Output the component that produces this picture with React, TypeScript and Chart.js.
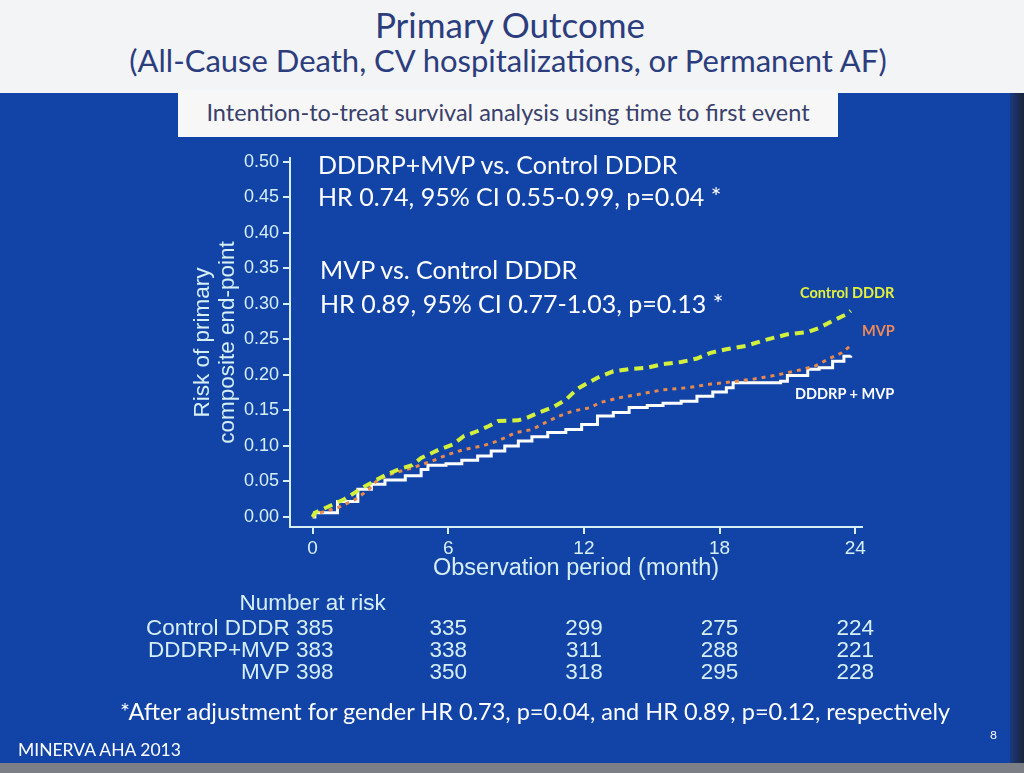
import React, { useEffect, useRef } from "react";
import { Chart, registerables } from "chart.js";

Chart.register(...registerables);

// ---- Data ----
const controlMonths = [0, 0.1, 1.4, 2.3, 3.1, 3.8, 4.4, 4.8, 5.6, 6.2, 6.7, 7.3, 7.8, 8.2, 9.1, 9.5, 10.0, 10.6, 11.2, 11.6, 11.8, 12.6, 13.3, 14.0, 14.8, 15.5, 16.3, 17.0, 17.6, 18.3, 19.2, 19.9, 21.0, 21.9, 22.4, 23.0, 23.6, 23.8];
const controlRisk = [0, 0.006, 0.025, 0.043, 0.057, 0.067, 0.073, 0.083, 0.095, 0.102, 0.114, 0.121, 0.128, 0.135, 0.136, 0.140, 0.147, 0.154, 0.165, 0.177, 0.182, 0.196, 0.205, 0.208, 0.210, 0.215, 0.218, 0.223, 0.231, 0.236, 0.241, 0.248, 0.257, 0.260, 0.266, 0.276, 0.285, 0.290];

const mvpMonths = [0, 0.1, 1.1, 1.9, 2.5, 2.9, 3.6, 4.4, 5.3, 6.0, 6.7, 7.5, 8.2, 9.0, 9.7, 10.3, 10.9, 11.5, 12.3, 12.7, 13.6, 14.5, 15.5, 16.6, 17.6, 18.5, 19.5, 20.4, 21.3, 22.2, 22.8, 23.4, 23.8];
const mvpRisk = [0, 0.004, 0.013, 0.025, 0.039, 0.053, 0.062, 0.069, 0.079, 0.088, 0.095, 0.100, 0.107, 0.119, 0.123, 0.133, 0.142, 0.149, 0.154, 0.161, 0.168, 0.173, 0.179, 0.182, 0.187, 0.190, 0.194, 0.199, 0.205, 0.212, 0.222, 0.231, 0.241];

const dddrpMonths = [0, 0.1, 1.1, 2.0, 2.6, 3.2, 4.1, 4.8, 5.1, 5.9, 6.6, 7.3, 7.9, 8.5, 9.1, 9.7, 10.4, 11.2, 11.9, 12.6, 13.3, 14.0, 14.8, 15.5, 16.3, 17.0, 17.7, 18.3, 18.6, 19.7, 20.7, 21.0, 21.9, 22.4, 23.0, 23.5, 23.8];
const dddrpRisk = [0, 0.006, 0.022, 0.039, 0.046, 0.052, 0.058, 0.067, 0.073, 0.075, 0.080, 0.086, 0.093, 0.100, 0.107, 0.113, 0.119, 0.123, 0.130, 0.142, 0.147, 0.154, 0.157, 0.160, 0.163, 0.170, 0.176, 0.182, 0.189, 0.189, 0.191, 0.199, 0.208, 0.210, 0.219, 0.226, 0.227];

const xTickValues = [0, 6, 12, 18, 24];
const yTickValues = [0, 0.05, 0.1, 0.15, 0.2, 0.25, 0.3, 0.35, 0.4, 0.45, 0.5];

const riskHeader = "Number at risk";
const riskRowLabels = ["Control DDDR 385", "DDDRP+MVP 383", "MVP 398"];
const riskMonths = [6, 12, 18, 24];
const riskControl = [335, 299, 275, 224];
const riskDddrp = [338, 311, 288, 221];
const riskMvp = [350, 318, 295, 228];

const AXIS_COLOR = "#d6eff5";
const BLUE = "#1144a6";
const SANS = '"Liberation Sans", Arial, sans-serif';
const SLIDE = 'Lato, "Open Sans", sans-serif';

const toPoints = (xs: number[], ys: number[]) => xs.map((x, i) => ({ x, y: ys[i] }));

const riskTablePlugin = {
  id: "riskTable",
  afterDraw(chart: any) {
    const ctx = chart.ctx;
    const xs = chart.scales.x;
    const bottom = chart.chartArea.bottom;
    ctx.save();
    ctx.fillStyle = AXIS_COLOR;
    ctx.font = `22.5px ${SANS}`;
    ctx.textBaseline = "middle";
    const x0 = xs.getPixelForValue(0);
    ctx.textAlign = "center";
    ctx.fillText(riskHeader, x0, bottom + 77);
    const rows = [riskControl, riskDddrp, riskMvp];
    rows.forEach((vals, r) => {
      const y = bottom + 102 + r * 22;
      ctx.textAlign = "right";
      ctx.fillText(riskRowLabels[r], x0 + 21, y);
      ctx.textAlign = "center";
      vals.forEach((v, i) => {
        ctx.fillText(String(v), xs.getPixelForValue(riskMonths[i]), y);
      });
    });
    ctx.restore();
  },
};

function KMChart() {
  const ref = useRef<HTMLCanvasElement | null>(null);
  useEffect(() => {
    if (!ref.current) return;
    const chart = new Chart(ref.current, {
      type: "line",
      data: {
        datasets: [
          {
            label: "Control DDDR",
            data: toPoints(controlMonths, controlRisk),
            borderColor: "#d2f03c",
            borderWidth: 4,
            borderDash: [9, 6],
            pointRadius: 0,
            stepped: false,
            fill: false,
          },
          {
            label: "MVP",
            data: toPoints(mvpMonths, mvpRisk),
            borderColor: "#e8894c",
            borderWidth: 3,
            borderDash: [4, 5],
            pointRadius: 0,
            stepped: false,
            fill: false,
          },
          {
            label: "DDDRP + MVP",
            data: toPoints(dddrpMonths, dddrpRisk),
            borderColor: "#ffffff",
            borderWidth: 3,
            pointRadius: 0,
            stepped: true,
            fill: false,
          },
        ],
      },
      options: {
        responsive: false,
        animation: false,
        layout: { padding: { left: 184, top: 158, right: 162, bottom: 186 } },
        plugins: { legend: { display: false }, tooltip: { enabled: false } },
        scales: {
          x: {
            type: "linear",
            min: -1,
            max: 24.3,
            afterBuildTicks: (s: any) => {
              s.ticks = xTickValues.map((v) => ({ value: v }));
            },
            afterFit: (s: any) => {
              s.height = 60;
            },
            grid: { display: true, drawOnChartArea: false, drawTicks: true, tickLength: 7, color: AXIS_COLOR, lineWidth: 2 },
            border: { display: true, color: AXIS_COLOR, width: 2 },
            ticks: {
              color: AXIS_COLOR,
              font: { family: SANS, size: 19 },
              padding: 3,
              maxRotation: 0,
              autoSkip: false,
              callback: (v: any) => String(v),
            },
            title: {
              display: true,
              text: "Observation period (month)",
              color: AXIS_COLOR,
              font: { family: SANS, size: 23.5 },
              padding: { top: 0, bottom: 4 },
            },
          },
          y: {
            type: "linear",
            min: -0.014,
            max: 0.505,
            afterBuildTicks: (s: any) => {
              s.ticks = yTickValues.map((v) => ({ value: v }));
            },
            afterFit: (s: any) => {
              s.width = 106;
            },
            grid: { display: true, drawOnChartArea: false, drawTicks: true, tickLength: 7, color: AXIS_COLOR, lineWidth: 2 },
            border: { display: true, color: AXIS_COLOR, width: 2 },
            ticks: {
              color: AXIS_COLOR,
              font: { family: SANS, size: 18 },
              padding: 4,
              autoSkip: false,
              callback: (v: any) => Number(v).toFixed(2),
            },
            title: {
              display: true,
              text: ["Risk of primary", "composite end-point"],
              color: AXIS_COLOR,
              font: { family: SANS, size: 22.5, lineHeight: 1.12 },
              padding: { top: 6, bottom: 0 },
            },
          },
        },
      },
      plugins: [riskTablePlugin],
    } as any);
    return () => chart.destroy();
  }, []);
  return (
    <canvas
      ref={ref}
      width={1024}
      height={773}
      style={{ position: "absolute", left: 0, top: 0, width: 1024, height: 773 }}
    />
  );
}

const abs = (extra: React.CSSProperties): React.CSSProperties => ({
  position: "absolute",
  whiteSpace: "nowrap",
  lineHeight: 1,
  ...extra,
});

export default function App() {
  return (
    <div
      style={{
        position: "absolute",
        left: 0,
        top: 0,
        width: 1024,
        height: 773,
        overflow: "hidden",
        background: BLUE,
        fontFamily: SLIDE,
      }}
    >
      {/* white header */}
      <div style={abs({ left: 0, top: 0, width: 1024, height: 93, background: "#f3f4f6" })} />
      <div style={abs({ left: 178, top: 90, width: 660, height: 47, background: "#f7f7f8" })} />
      <div style={abs({ left: 1010, top: 93, width: 14, height: 680, background: "linear-gradient(90deg, #1a3a80, #1c2438)" })} />
      <div style={abs({ left: 0, top: 763, width: 1024, height: 10, background: "#7c7f86" })} />

      <div style={abs({ left: 510, top: 7, transform: "translateX(-50%)", fontSize: 35, color: "#2c3d7e" })}>Primary Outcome</div>
      <div style={abs({ left: 508, top: 45, transform: "translateX(-50%)", fontSize: 31, color: "#2c3d7e" })}>
        (All-Cause Death, CV hospitalizations, or Permanent AF)
      </div>
      <div style={abs({ left: 508, top: 101, transform: "translateX(-50%)", fontSize: 23.5, color: "#39406a" })}>
        Intention-to-treat survival analysis using time to first event
      </div>

      <KMChart />

      <div style={abs({ left: 318, top: 152, fontSize: 25, color: "#ffffff" })}>DDDRP+MVP vs. Control DDDR</div>
      <div style={abs({ left: 318, top: 184, fontSize: 25, color: "#ffffff" })}>HR 0.74, 95% CI 0.55-0.99, p=0.04 *</div>
      <div style={abs({ left: 320, top: 257, fontSize: 25, color: "#ffffff" })}>MVP vs. Control DDDR</div>
      <div style={abs({ left: 320, top: 291, fontSize: 25, color: "#ffffff" })}>HR 0.89, 95% CI 0.77-1.03, p=0.13 *</div>

      <div style={abs({ left: 800, top: 286, fontSize: 14.5, fontWeight: 700, color: "#e3f03c" })}>Control DDDR</div>
      <div style={abs({ left: 862, top: 324, fontSize: 14.5, fontWeight: 700, color: "#f08a58" })}>MVP</div>
      <div style={abs({ left: 795, top: 387, fontSize: 14.5, fontWeight: 700, color: "#ffffff" })}>DDDRP + MVP</div>

      <div style={abs({ left: 535, top: 700, transform: "translateX(-50%)", fontSize: 23.5, color: "#ffffff" })}>
        *After adjustment for gender HR 0.73, p=0.04, and  HR 0.89, p=0.12, respectively
      </div>
      <div style={abs({ left: 18, top: 741, fontSize: 17.5, color: "#ffffff" })}>MINERVA AHA 2013</div>
      <div style={abs({ left: 990, top: 729, fontSize: 12, color: "#ffffff" })}>8</div>
    </div>
  );
}
